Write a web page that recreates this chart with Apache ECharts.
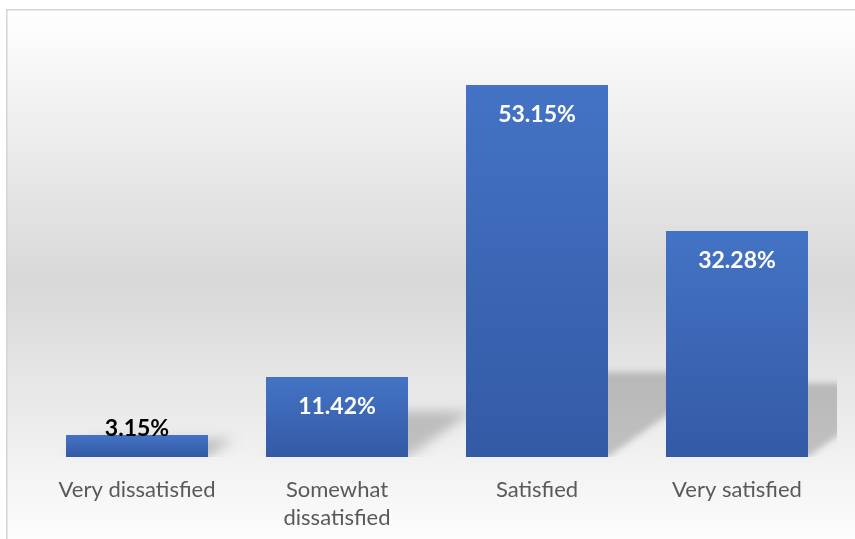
<!DOCTYPE html>
<html>
<head>
<meta charset="utf-8">
<script src="https://cdn.jsdelivr.net/npm/echarts@6/dist/echarts.min.js"></script>
<style>
  html, body { margin: 0; padding: 0; background: #ffffff; }
  #chart { width: 855px; height: 539px; }
</style>
</head>
<body>
<div id="chart"></div>
<script>
// Satisfaction survey: share of respondents per answer
const categories = ['Very dissatisfied', 'Somewhat\ndissatisfied', 'Satisfied', 'Very satisfied'];
const shares = [3.15, 11.42, 53.15, 32.28];
const axisMax = 60;

const BAR_RATIO = 0.71;

const chart = echarts.init(document.getElementById('chart'), null, { renderer: 'canvas' });

// Soft perspective shadow cast to the right of each bar.
// The polygon is drawn far off to the left and only its blurred shadow
// is brought back into place, so what remains is a soft-edged shape.
function renderShadow(params, api) {
  const idx = api.value(0);
  const val = api.value(1);
  const base = api.coord([idx, 0]);
  const top = api.coord([idx, val]);
  const half = api.size([1, 0])[0] * BAR_RATIO / 2;
  const x0 = base[0] - half;
  const x1 = base[0] + half;
  const y0 = base[1];
  const h = base[1] - top[1];
  const hs = h * 0.98 / (1 + 0.00886 * h);
  const dx = hs * 1.4;
  const off = 4000;
  return {
    type: 'polygon',
    shape: {
      points: [
        [x0 - off, y0],
        [x1 - off, y0],
        [x1 + dx - off, y0 - hs],
        [x0 + dx - off, y0 - hs]
      ]
    },
    style: {
      fill: 'rgba(0,0,0,1)',
      shadowColor: 'rgba(0,0,0,0.2)',
      shadowBlur: h < 120 ? 12 : 6,
      shadowOffsetX: off,
      shadowOffsetY: 0
    },
    silent: true
  };
}

const barData = shares.map(function (v, i) {
  if (i === 0) {
    return {
      value: v,
      label: {
        position: 'insideBottom',
        distance: 17,
        color: '#000000'
      }
    };
  }
  return v;
});

chart.setOption({
  animation: false,
  graphic: [{
    type: 'rect',
    z: -100,
    left: 6,
    top: 9,
    shape: { width: 880, height: 545 },
    style: {
      fill: new echarts.graphic.LinearGradient(0, 0, 0, 1, [
        { offset: 0, color: '#ffffff' },
        { offset: 0.5, color: '#d8d8d8' },
        { offset: 1, color: '#ffffff' }
      ]),
      stroke: '#d4d4d4',
      lineWidth: 1.5
    },
    silent: true
  }],
  grid: {
    left: 37,
    right: 18,
    top: 37,
    bottom: 82,
    containLabel: false
  },
  xAxis: {
    type: 'category',
    data: categories,
    axisLine: { show: false },
    axisTick: { show: false },
    axisLabel: {
      color: '#595959',
      fontFamily: 'Lato',
      fontSize: 22,
      lineHeight: 28,
      margin: 19,
      interval: 0
    }
  },
  yAxis: {
    type: 'value',
    min: 0,
    max: axisMax,
    interval: 10,
    show: false,
    splitLine: { show: false }
  },
  series: [
    {
      type: 'custom',
      z: 1,
      clip: true,
      renderItem: renderShadow,
      data: shares.map(function (v, i) { return [i, v]; }),
      encode: { x: 0, y: 1 }
    },
    {
      type: 'bar',
      z: 2,
      barWidth: (BAR_RATIO * 100) + '%',
      data: barData,
      itemStyle: {
        color: new echarts.graphic.LinearGradient(0, 0, 0, 1, [
          { offset: 0, color: '#4473c5' },
          { offset: 1, color: '#335aa5' }
        ])
      },
      label: {
        show: true,
        position: 'insideTop',
        distance: 18,
        color: '#ffffff',
        fontFamily: 'Lato',
        fontWeight: 'bold',
        fontSize: 23,
        formatter: function (p) { return p.value.toFixed(2) + '%'; }
      }
    }
  ]
});
</script>
</body>
</html>
